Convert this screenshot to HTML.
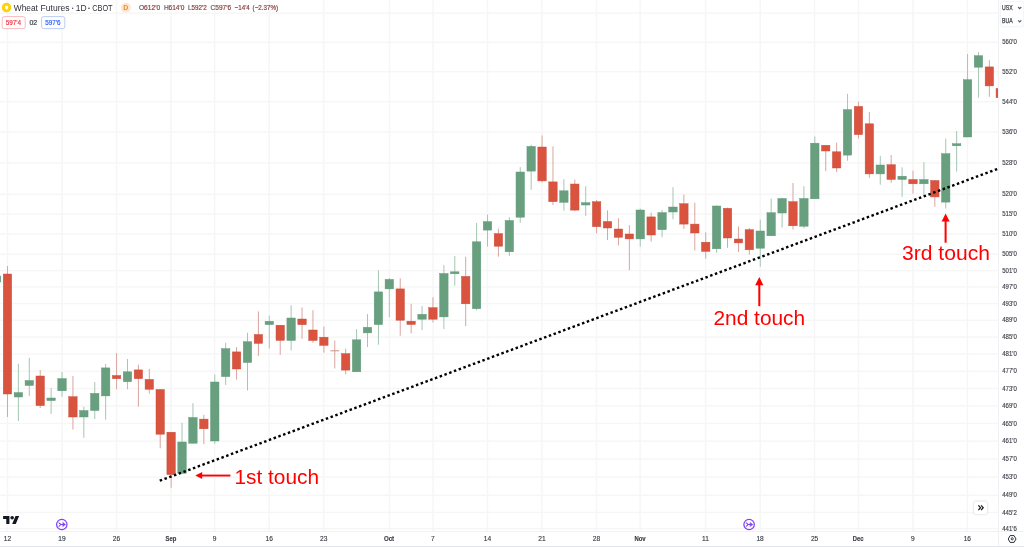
<!DOCTYPE html>
<html><head><meta charset="utf-8">
<style>
html,body{margin:0;padding:0;background:#fff;width:1024px;height:547px;overflow:hidden}
svg{position:absolute;left:0;top:0;display:block;will-change:transform}
text{font-family:"Liberation Sans",sans-serif}
</style></head><body>
<svg width="1024" height="547" viewBox="0 0 1024 547">
<rect width="1024" height="547" fill="#fff"/>
<clipPath id="cp"><rect x="0" y="0" width="998" height="531"/></clipPath>
<g clip-path="url(#cp)">
<rect x="6.8" y="0" width="1.4" height="531" fill="#f6f6f7"/>
<rect x="61.4" y="0" width="1.4" height="531" fill="#f6f6f7"/>
<rect x="115.8" y="0" width="1.4" height="531" fill="#f6f6f7"/>
<rect x="170.3" y="0" width="1.4" height="531" fill="#f6f6f7"/>
<rect x="214" y="0" width="1.4" height="531" fill="#f6f6f7"/>
<rect x="268.5" y="0" width="1.4" height="531" fill="#f6f6f7"/>
<rect x="323.1" y="0" width="1.4" height="531" fill="#f6f6f7"/>
<rect x="388.8" y="0" width="1.4" height="531" fill="#f6f6f7"/>
<rect x="432.4" y="0" width="1.4" height="531" fill="#f6f6f7"/>
<rect x="486.8" y="0" width="1.4" height="531" fill="#f6f6f7"/>
<rect x="541.2" y="0" width="1.4" height="531" fill="#f6f6f7"/>
<rect x="595.7" y="0" width="1.4" height="531" fill="#f6f6f7"/>
<rect x="639.4" y="0" width="1.4" height="531" fill="#f6f6f7"/>
<rect x="704.9" y="0" width="1.4" height="531" fill="#f6f6f7"/>
<rect x="759.5" y="0" width="1.4" height="531" fill="#f6f6f7"/>
<rect x="813.8" y="0" width="1.4" height="531" fill="#f6f6f7"/>
<rect x="857.8" y="0" width="1.4" height="531" fill="#f6f6f7"/>
<rect x="912.3" y="0" width="1.4" height="531" fill="#f6f6f7"/>
<rect x="966.7" y="0" width="1.4" height="531" fill="#f6f6f7"/>
<rect x="0" y="12.46" width="998" height="1.4" fill="#f6f6f7"/>
<rect x="0" y="41.55" width="998" height="1.4" fill="#f6f6f7"/>
<rect x="0" y="71.06" width="998" height="1.4" fill="#f6f6f7"/>
<rect x="0" y="100.99" width="998" height="1.4" fill="#f6f6f7"/>
<rect x="0" y="131.37" width="998" height="1.4" fill="#f6f6f7"/>
<rect x="0" y="162.21" width="998" height="1.4" fill="#f6f6f7"/>
<rect x="0" y="193.52" width="998" height="1.4" fill="#f6f6f7"/>
<rect x="0" y="213.33" width="998" height="1.4" fill="#f6f6f7"/>
<rect x="0" y="233.33" width="998" height="1.4" fill="#f6f6f7"/>
<rect x="0" y="253.54" width="998" height="1.4" fill="#f6f6f7"/>
<rect x="0" y="269.84" width="998" height="1.4" fill="#f6f6f7"/>
<rect x="0" y="286.28" width="998" height="1.4" fill="#f6f6f7"/>
<rect x="0" y="302.85" width="998" height="1.4" fill="#f6f6f7"/>
<rect x="0" y="319.56" width="998" height="1.4" fill="#f6f6f7"/>
<rect x="0" y="336.4" width="998" height="1.4" fill="#f6f6f7"/>
<rect x="0" y="353.38" width="998" height="1.4" fill="#f6f6f7"/>
<rect x="0" y="370.51" width="998" height="1.4" fill="#f6f6f7"/>
<rect x="0" y="387.78" width="998" height="1.4" fill="#f6f6f7"/>
<rect x="0" y="405.19" width="998" height="1.4" fill="#f6f6f7"/>
<rect x="0" y="422.76" width="998" height="1.4" fill="#f6f6f7"/>
<rect x="0" y="440.47" width="998" height="1.4" fill="#f6f6f7"/>
<rect x="0" y="458.34" width="998" height="1.4" fill="#f6f6f7"/>
<rect x="0" y="476.37" width="998" height="1.4" fill="#f6f6f7"/>
<rect x="0" y="494.56" width="998" height="1.4" fill="#f6f6f7"/>
<rect x="0" y="511.75" width="998" height="1.4" fill="#f6f6f7"/>
<rect x="0" y="527.94" width="998" height="1.4" fill="#f6f6f7"/>
<rect x="-3.94" y="270" width="1" height="20" fill="#a6c6b3"/>
<rect x="-7.66" y="276" width="8.44" height="6" fill="#68a07f" stroke="#5e9878" stroke-width="0.45"/>
<rect x="6.97" y="266" width="1" height="151" fill="#d9a59e"/>
<rect x="3.25" y="274" width="8.44" height="120" fill="#d9533f" stroke="#c84f3e" stroke-width="0.45"/>
<rect x="17.88" y="363.7" width="1" height="57.3" fill="#a6c6b3"/>
<rect x="14.16" y="392.6" width="8.44" height="4.4" fill="#68a07f" stroke="#5e9878" stroke-width="0.45"/>
<rect x="28.79" y="357.8" width="1" height="38.2" fill="#a6c6b3"/>
<rect x="25.07" y="380.5" width="8.44" height="5" fill="#68a07f" stroke="#5e9878" stroke-width="0.45"/>
<rect x="39.7" y="370" width="1" height="38" fill="#d9a59e"/>
<rect x="35.98" y="376" width="8.44" height="29.6" fill="#d9533f" stroke="#c84f3e" stroke-width="0.45"/>
<rect x="50.61" y="388" width="1" height="26" fill="#a6c6b3"/>
<rect x="46.89" y="398" width="8.44" height="2.6" fill="#68a07f" stroke="#5e9878" stroke-width="0.45"/>
<rect x="61.52" y="372" width="1" height="24.7" fill="#a6c6b3"/>
<rect x="57.8" y="378.6" width="8.44" height="12.2" fill="#68a07f" stroke="#5e9878" stroke-width="0.45"/>
<rect x="72.43" y="376" width="1" height="53.6" fill="#d9a59e"/>
<rect x="68.71" y="396.7" width="8.44" height="20.3" fill="#d9533f" stroke="#c84f3e" stroke-width="0.45"/>
<rect x="83.34" y="406.6" width="1" height="31.2" fill="#a6c6b3"/>
<rect x="79.62" y="410.5" width="8.44" height="6.5" fill="#68a07f" stroke="#5e9878" stroke-width="0.45"/>
<rect x="94.25" y="382" width="1" height="37" fill="#a6c6b3"/>
<rect x="90.53" y="393.4" width="8.44" height="17.1" fill="#68a07f" stroke="#5e9878" stroke-width="0.45"/>
<rect x="105.16" y="364" width="1" height="55.6" fill="#a6c6b3"/>
<rect x="101.44" y="367.9" width="8.44" height="28" fill="#68a07f" stroke="#5e9878" stroke-width="0.45"/>
<rect x="116.07" y="353" width="1" height="36.3" fill="#d9a59e"/>
<rect x="112.35" y="375.5" width="8.44" height="3.2" fill="#d9533f" stroke="#c84f3e" stroke-width="0.45"/>
<rect x="126.98" y="359" width="1" height="30.3" fill="#a6c6b3"/>
<rect x="123.26" y="371.8" width="8.44" height="9.9" fill="#68a07f" stroke="#5e9878" stroke-width="0.45"/>
<rect x="137.89" y="364.6" width="1" height="42.1" fill="#d9a59e"/>
<rect x="134.17" y="369.9" width="8.44" height="8.8" fill="#d9533f" stroke="#c84f3e" stroke-width="0.45"/>
<rect x="148.8" y="368.9" width="1" height="24.7" fill="#d9a59e"/>
<rect x="145.08" y="379.4" width="8.44" height="9.9" fill="#d9533f" stroke="#c84f3e" stroke-width="0.45"/>
<rect x="159.71" y="389.3" width="1" height="59" fill="#d9a59e"/>
<rect x="155.99" y="389.5" width="8.44" height="44.7" fill="#d9533f" stroke="#c84f3e" stroke-width="0.45"/>
<rect x="170.62" y="432" width="1" height="55.8" fill="#d9a59e"/>
<rect x="166.9" y="432.2" width="8.44" height="42.4" fill="#d9533f" stroke="#c84f3e" stroke-width="0.45"/>
<rect x="181.53" y="422.9" width="1" height="50.4" fill="#a6c6b3"/>
<rect x="177.81" y="442" width="8.44" height="31.3" fill="#68a07f" stroke="#5e9878" stroke-width="0.45"/>
<rect x="192.44" y="403.2" width="1" height="40.4" fill="#a6c6b3"/>
<rect x="188.72" y="417.5" width="8.44" height="25.7" fill="#68a07f" stroke="#5e9878" stroke-width="0.45"/>
<rect x="203.35" y="414.8" width="1" height="29.3" fill="#d9a59e"/>
<rect x="199.63" y="419.1" width="8.44" height="9.7" fill="#d9533f" stroke="#c84f3e" stroke-width="0.45"/>
<rect x="214.26" y="374.6" width="1" height="69.2" fill="#a6c6b3"/>
<rect x="210.54" y="382" width="8.44" height="59" fill="#68a07f" stroke="#5e9878" stroke-width="0.45"/>
<rect x="225.17" y="342.7" width="1" height="42.1" fill="#a6c6b3"/>
<rect x="221.45" y="348.6" width="8.44" height="28" fill="#68a07f" stroke="#5e9878" stroke-width="0.45"/>
<rect x="236.08" y="347" width="1" height="32.6" fill="#d9a59e"/>
<rect x="232.36" y="351.9" width="8.44" height="17.1" fill="#d9533f" stroke="#c84f3e" stroke-width="0.45"/>
<rect x="246.99" y="332.8" width="1" height="57.7" fill="#a6c6b3"/>
<rect x="243.27" y="341.7" width="8.44" height="20.8" fill="#68a07f" stroke="#5e9878" stroke-width="0.45"/>
<rect x="257.9" y="311.4" width="1" height="44.5" fill="#d9a59e"/>
<rect x="254.18" y="334.5" width="8.44" height="8.9" fill="#d9533f" stroke="#c84f3e" stroke-width="0.45"/>
<rect x="268.81" y="315.7" width="1" height="32.9" fill="#a6c6b3"/>
<rect x="265.09" y="321.3" width="8.44" height="3.3" fill="#68a07f" stroke="#5e9878" stroke-width="0.45"/>
<rect x="279.72" y="325" width="1" height="29.9" fill="#d9a59e"/>
<rect x="276" y="325.2" width="8.44" height="15.2" fill="#d9533f" stroke="#c84f3e" stroke-width="0.45"/>
<rect x="290.63" y="305.3" width="1" height="45.2" fill="#a6c6b3"/>
<rect x="286.91" y="318" width="8.44" height="22.5" fill="#68a07f" stroke="#5e9878" stroke-width="0.45"/>
<rect x="301.54" y="307.5" width="1" height="31.3" fill="#d9a59e"/>
<rect x="297.82" y="319" width="8.44" height="5.7" fill="#d9533f" stroke="#c84f3e" stroke-width="0.45"/>
<rect x="312.45" y="310.2" width="1" height="32.6" fill="#d9a59e"/>
<rect x="308.73" y="330" width="8.44" height="10.5" fill="#d9533f" stroke="#c84f3e" stroke-width="0.45"/>
<rect x="323.36" y="326.6" width="1" height="26" fill="#d9a59e"/>
<rect x="319.64" y="337.2" width="8.44" height="8.2" fill="#d9533f" stroke="#c84f3e" stroke-width="0.45"/>
<rect x="334.27" y="340.5" width="1" height="28" fill="#d9a59e"/>
<rect x="330.37" y="350.3" width="8.8" height="1" fill="#d28f87"/>
<rect x="345.18" y="348.7" width="1" height="25.7" fill="#d9a59e"/>
<rect x="341.46" y="353.6" width="8.44" height="16.5" fill="#d9533f" stroke="#c84f3e" stroke-width="0.45"/>
<rect x="356.09" y="329" width="1" height="42.8" fill="#a6c6b3"/>
<rect x="352.37" y="339.8" width="8.44" height="32" fill="#68a07f" stroke="#5e9878" stroke-width="0.45"/>
<rect x="367" y="314.1" width="1" height="32.9" fill="#a6c6b3"/>
<rect x="363.28" y="327.3" width="8.44" height="5.6" fill="#68a07f" stroke="#5e9878" stroke-width="0.45"/>
<rect x="377.91" y="270.3" width="1" height="74.4" fill="#a6c6b3"/>
<rect x="374.19" y="291.9" width="8.44" height="32.7" fill="#68a07f" stroke="#5e9878" stroke-width="0.45"/>
<rect x="388.82" y="278" width="1" height="39.2" fill="#a6c6b3"/>
<rect x="385.1" y="279.4" width="8.44" height="9.5" fill="#68a07f" stroke="#5e9878" stroke-width="0.45"/>
<rect x="399.73" y="278.4" width="1" height="57.3" fill="#d9a59e"/>
<rect x="396.01" y="288.9" width="8.44" height="31.3" fill="#d9533f" stroke="#c84f3e" stroke-width="0.45"/>
<rect x="410.64" y="303.8" width="1" height="29.6" fill="#d9a59e"/>
<rect x="406.92" y="321.2" width="8.44" height="3.3" fill="#d9533f" stroke="#c84f3e" stroke-width="0.45"/>
<rect x="421.55" y="306" width="1" height="24.1" fill="#a6c6b3"/>
<rect x="417.83" y="314.3" width="8.44" height="4.9" fill="#68a07f" stroke="#5e9878" stroke-width="0.45"/>
<rect x="432.46" y="297.2" width="1" height="25.3" fill="#d9a59e"/>
<rect x="428.74" y="307.7" width="8.44" height="11.5" fill="#d9533f" stroke="#c84f3e" stroke-width="0.45"/>
<rect x="443.37" y="265.2" width="1" height="63.9" fill="#a6c6b3"/>
<rect x="439.65" y="273.5" width="8.44" height="43.4" fill="#68a07f" stroke="#5e9878" stroke-width="0.45"/>
<rect x="454.28" y="256" width="1" height="29.6" fill="#a6c6b3"/>
<rect x="450.56" y="271.8" width="8.44" height="2" fill="#68a07f" stroke="#5e9878" stroke-width="0.45"/>
<rect x="465.19" y="256.7" width="1" height="69.5" fill="#d9a59e"/>
<rect x="461.47" y="276.4" width="8.44" height="27.4" fill="#d9533f" stroke="#c84f3e" stroke-width="0.45"/>
<rect x="476.1" y="223" width="1" height="87.3" fill="#a6c6b3"/>
<rect x="472.38" y="241.8" width="8.44" height="66.9" fill="#68a07f" stroke="#5e9878" stroke-width="0.45"/>
<rect x="487.01" y="214.6" width="1" height="32" fill="#a6c6b3"/>
<rect x="483.29" y="221.6" width="8.44" height="8.5" fill="#68a07f" stroke="#5e9878" stroke-width="0.45"/>
<rect x="497.92" y="228.7" width="1" height="28" fill="#d9a59e"/>
<rect x="494.2" y="233.6" width="8.44" height="12.6" fill="#d9533f" stroke="#c84f3e" stroke-width="0.45"/>
<rect x="508.83" y="217.2" width="1" height="38.8" fill="#a6c6b3"/>
<rect x="505.11" y="220.5" width="8.44" height="31.3" fill="#68a07f" stroke="#5e9878" stroke-width="0.45"/>
<rect x="519.74" y="167.1" width="1" height="55.7" fill="#a6c6b3"/>
<rect x="516.02" y="172" width="8.44" height="45.2" fill="#68a07f" stroke="#5e9878" stroke-width="0.45"/>
<rect x="530.65" y="144.7" width="1" height="45.1" fill="#a6c6b3"/>
<rect x="526.93" y="146.4" width="8.44" height="24.7" fill="#68a07f" stroke="#5e9878" stroke-width="0.45"/>
<rect x="541.56" y="135.5" width="1" height="47.1" fill="#d9a59e"/>
<rect x="537.84" y="147" width="8.44" height="33.9" fill="#d9533f" stroke="#c84f3e" stroke-width="0.45"/>
<rect x="552.47" y="146.4" width="1" height="58.6" fill="#d9a59e"/>
<rect x="548.75" y="181.9" width="8.44" height="19.8" fill="#d9533f" stroke="#c84f3e" stroke-width="0.45"/>
<rect x="563.38" y="179.3" width="1" height="31.3" fill="#a6c6b3"/>
<rect x="559.66" y="190.8" width="8.44" height="11.5" fill="#68a07f" stroke="#5e9878" stroke-width="0.45"/>
<rect x="574.29" y="179.5" width="1" height="31.7" fill="#d9a59e"/>
<rect x="570.57" y="184" width="8.44" height="26.1" fill="#d9533f" stroke="#c84f3e" stroke-width="0.45"/>
<rect x="585.2" y="186.2" width="1" height="29.7" fill="#a6c6b3"/>
<rect x="581.48" y="202.7" width="8.44" height="2.3" fill="#68a07f" stroke="#5e9878" stroke-width="0.45"/>
<rect x="596.11" y="200" width="1" height="33.3" fill="#d9a59e"/>
<rect x="592.39" y="201.7" width="8.44" height="25" fill="#d9533f" stroke="#c84f3e" stroke-width="0.45"/>
<rect x="607.02" y="210.3" width="1" height="29.7" fill="#d9a59e"/>
<rect x="603.3" y="221.5" width="8.44" height="6.5" fill="#d9533f" stroke="#c84f3e" stroke-width="0.45"/>
<rect x="617.93" y="218.2" width="1" height="27.3" fill="#d9a59e"/>
<rect x="614.21" y="229" width="8.44" height="8.3" fill="#d9533f" stroke="#c84f3e" stroke-width="0.45"/>
<rect x="628.84" y="225.1" width="1" height="45.1" fill="#d9a59e"/>
<rect x="625.12" y="234" width="8.44" height="4.9" fill="#d9533f" stroke="#c84f3e" stroke-width="0.45"/>
<rect x="639.75" y="208.6" width="1" height="37.9" fill="#a6c6b3"/>
<rect x="636.03" y="210" width="8.44" height="28.9" fill="#68a07f" stroke="#5e9878" stroke-width="0.45"/>
<rect x="650.66" y="212.6" width="1" height="29" fill="#d9a59e"/>
<rect x="646.94" y="216.9" width="8.44" height="18.1" fill="#d9533f" stroke="#c84f3e" stroke-width="0.45"/>
<rect x="661.57" y="210" width="1" height="27.3" fill="#a6c6b3"/>
<rect x="657.85" y="212.6" width="8.44" height="17.1" fill="#68a07f" stroke="#5e9878" stroke-width="0.45"/>
<rect x="672.48" y="187.2" width="1" height="32" fill="#a6c6b3"/>
<rect x="668.76" y="207" width="8.44" height="5" fill="#68a07f" stroke="#5e9878" stroke-width="0.45"/>
<rect x="683.39" y="194.5" width="1" height="34.5" fill="#d9a59e"/>
<rect x="679.67" y="203.7" width="8.44" height="20.4" fill="#d9533f" stroke="#c84f3e" stroke-width="0.45"/>
<rect x="694.3" y="202.7" width="1" height="47.8" fill="#d9a59e"/>
<rect x="690.58" y="224.1" width="8.44" height="8.9" fill="#d9533f" stroke="#c84f3e" stroke-width="0.45"/>
<rect x="705.21" y="232.3" width="1" height="26.4" fill="#d9a59e"/>
<rect x="701.49" y="242.2" width="8.44" height="9.2" fill="#d9533f" stroke="#c84f3e" stroke-width="0.45"/>
<rect x="716.12" y="205.3" width="1" height="47.5" fill="#a6c6b3"/>
<rect x="712.4" y="206" width="8.44" height="42.8" fill="#68a07f" stroke="#5e9878" stroke-width="0.45"/>
<rect x="727.03" y="207.6" width="1" height="40.2" fill="#d9a59e"/>
<rect x="723.31" y="208.3" width="8.44" height="29.7" fill="#d9533f" stroke="#c84f3e" stroke-width="0.45"/>
<rect x="737.94" y="226.4" width="1" height="25.7" fill="#d9a59e"/>
<rect x="734.22" y="239" width="8.44" height="3.9" fill="#d9533f" stroke="#c84f3e" stroke-width="0.45"/>
<rect x="748.85" y="228" width="1" height="26.7" fill="#d9a59e"/>
<rect x="745.13" y="229.7" width="8.44" height="20.1" fill="#d9533f" stroke="#c84f3e" stroke-width="0.45"/>
<rect x="759.76" y="219.6" width="1" height="47.2" fill="#a6c6b3"/>
<rect x="756.04" y="231" width="8.44" height="17.2" fill="#68a07f" stroke="#5e9878" stroke-width="0.45"/>
<rect x="770.67" y="198.6" width="1" height="37.2" fill="#a6c6b3"/>
<rect x="766.95" y="212.7" width="8.44" height="23.1" fill="#68a07f" stroke="#5e9878" stroke-width="0.45"/>
<rect x="781.58" y="197.8" width="1" height="29.7" fill="#a6c6b3"/>
<rect x="777.86" y="198.5" width="8.44" height="14.5" fill="#68a07f" stroke="#5e9878" stroke-width="0.45"/>
<rect x="792.49" y="183" width="1" height="46.5" fill="#d9a59e"/>
<rect x="788.77" y="201.7" width="8.44" height="24.1" fill="#d9533f" stroke="#c84f3e" stroke-width="0.45"/>
<rect x="803.4" y="186.1" width="1" height="42.3" fill="#a6c6b3"/>
<rect x="799.68" y="198.5" width="8.44" height="27.7" fill="#68a07f" stroke="#5e9878" stroke-width="0.45"/>
<rect x="814.31" y="136.5" width="1" height="62.3" fill="#a6c6b3"/>
<rect x="810.59" y="143.2" width="8.44" height="55.6" fill="#68a07f" stroke="#5e9878" stroke-width="0.45"/>
<rect x="825.22" y="145.1" width="1" height="26.1" fill="#d9a59e"/>
<rect x="821.5" y="145.3" width="8.44" height="5.7" fill="#d9533f" stroke="#c84f3e" stroke-width="0.45"/>
<rect x="836.13" y="142.6" width="1" height="29.6" fill="#d9a59e"/>
<rect x="832.41" y="151.8" width="8.44" height="16.2" fill="#d9533f" stroke="#c84f3e" stroke-width="0.45"/>
<rect x="847.04" y="93.8" width="1" height="66.9" fill="#a6c6b3"/>
<rect x="843.32" y="109.6" width="8.44" height="45.5" fill="#68a07f" stroke="#5e9878" stroke-width="0.45"/>
<rect x="857.95" y="101.7" width="1" height="36.9" fill="#d9a59e"/>
<rect x="854.23" y="106.4" width="8.44" height="28.2" fill="#d9533f" stroke="#c84f3e" stroke-width="0.45"/>
<rect x="868.86" y="112" width="1" height="65.8" fill="#d9a59e"/>
<rect x="865.14" y="123.8" width="8.44" height="50.1" fill="#d9533f" stroke="#c84f3e" stroke-width="0.45"/>
<rect x="879.77" y="155.8" width="1" height="28.9" fill="#a6c6b3"/>
<rect x="876.05" y="165" width="8.44" height="8.9" fill="#68a07f" stroke="#5e9878" stroke-width="0.45"/>
<rect x="890.68" y="155" width="1" height="27.8" fill="#d9a59e"/>
<rect x="886.96" y="164.7" width="8.44" height="14.8" fill="#d9533f" stroke="#c84f3e" stroke-width="0.45"/>
<rect x="901.59" y="167.3" width="1" height="29.6" fill="#a6c6b3"/>
<rect x="897.87" y="176.2" width="8.44" height="3.3" fill="#68a07f" stroke="#5e9878" stroke-width="0.45"/>
<rect x="912.5" y="170.6" width="1" height="23" fill="#d9a59e"/>
<rect x="908.78" y="179.5" width="8.44" height="4.3" fill="#d9533f" stroke="#c84f3e" stroke-width="0.45"/>
<rect x="923.41" y="162.3" width="1" height="33.6" fill="#a6c6b3"/>
<rect x="919.69" y="179.5" width="8.44" height="4.3" fill="#68a07f" stroke="#5e9878" stroke-width="0.45"/>
<rect x="934.32" y="180" width="1" height="26.8" fill="#d9a59e"/>
<rect x="930.6" y="180.5" width="8.44" height="16.4" fill="#d9533f" stroke="#c84f3e" stroke-width="0.45"/>
<rect x="945.23" y="138.7" width="1" height="69.8" fill="#a6c6b3"/>
<rect x="941.51" y="153.7" width="8.44" height="48.4" fill="#68a07f" stroke="#5e9878" stroke-width="0.45"/>
<rect x="956.14" y="131" width="1" height="40.6" fill="#a6c6b3"/>
<rect x="952.42" y="143.7" width="8.44" height="2.1" fill="#68a07f" stroke="#5e9878" stroke-width="0.45"/>
<rect x="967.05" y="54" width="1" height="83" fill="#a6c6b3"/>
<rect x="963.33" y="79.7" width="8.44" height="57.3" fill="#68a07f" stroke="#5e9878" stroke-width="0.45"/>
<rect x="977.96" y="52.2" width="1" height="45.5" fill="#a6c6b3"/>
<rect x="974.24" y="55.7" width="8.44" height="11.5" fill="#68a07f" stroke="#5e9878" stroke-width="0.45"/>
<rect x="988.87" y="60.2" width="1" height="36.6" fill="#d9a59e"/>
<rect x="985.15" y="66.9" width="8.44" height="19" fill="#d9533f" stroke="#c84f3e" stroke-width="0.45"/>
<rect x="999.78" y="88" width="1" height="9.7" fill="#d9a59e"/>
<rect x="996.06" y="88.5" width="8.44" height="9.2" fill="#d9533f" stroke="#c84f3e" stroke-width="0.45"/>
<line x1="159.73" y1="480.74" x2="997.37" y2="168.96" stroke="#000" stroke-width="2.4" stroke-dasharray="2.5 2.563"/>
</g>
<!-- axes -->
<rect x="998" y="0" width="1" height="546" fill="#f1f1f3"/>
<rect x="0" y="531" width="1024" height="1" fill="#f1f1f3"/>
<rect x="0" y="546" width="1024" height="1" fill="#e3e4ee"/>
<g fill="#3a3d46" font-size="7" stroke="#3a3d46" stroke-width="0.15">
<text x="1002.2" y="44.3" textLength="14.6" lengthAdjust="spacingAndGlyphs">560'0</text>
<text x="1002.2" y="73.81" textLength="14.6" lengthAdjust="spacingAndGlyphs">552'0</text>
<text x="1002.2" y="103.74" textLength="14.6" lengthAdjust="spacingAndGlyphs">544'0</text>
<text x="1002.2" y="134.12" textLength="14.6" lengthAdjust="spacingAndGlyphs">536'0</text>
<text x="1002.2" y="164.96" textLength="14.6" lengthAdjust="spacingAndGlyphs">528'0</text>
<text x="1002.2" y="196.27" textLength="14.6" lengthAdjust="spacingAndGlyphs">520'0</text>
<text x="1002.2" y="216.08" textLength="14.6" lengthAdjust="spacingAndGlyphs">515'0</text>
<text x="1002.2" y="236.08" textLength="14.6" lengthAdjust="spacingAndGlyphs">510'0</text>
<text x="1002.2" y="256.29" textLength="14.6" lengthAdjust="spacingAndGlyphs">505'0</text>
<text x="1002.2" y="272.59" textLength="14.6" lengthAdjust="spacingAndGlyphs">501'0</text>
<text x="1002.2" y="289.03" textLength="14.6" lengthAdjust="spacingAndGlyphs">497'0</text>
<text x="1002.2" y="305.6" textLength="14.6" lengthAdjust="spacingAndGlyphs">493'0</text>
<text x="1002.2" y="322.31" textLength="14.6" lengthAdjust="spacingAndGlyphs">489'0</text>
<text x="1002.2" y="339.15" textLength="14.6" lengthAdjust="spacingAndGlyphs">485'0</text>
<text x="1002.2" y="356.13" textLength="14.6" lengthAdjust="spacingAndGlyphs">481'0</text>
<text x="1002.2" y="373.26" textLength="14.6" lengthAdjust="spacingAndGlyphs">477'0</text>
<text x="1002.2" y="390.53" textLength="14.6" lengthAdjust="spacingAndGlyphs">473'0</text>
<text x="1002.2" y="407.94" textLength="14.6" lengthAdjust="spacingAndGlyphs">469'0</text>
<text x="1002.2" y="425.51" textLength="14.6" lengthAdjust="spacingAndGlyphs">465'0</text>
<text x="1002.2" y="443.22" textLength="14.6" lengthAdjust="spacingAndGlyphs">461'0</text>
<text x="1002.2" y="461.09" textLength="14.6" lengthAdjust="spacingAndGlyphs">457'0</text>
<text x="1002.2" y="479.12" textLength="14.6" lengthAdjust="spacingAndGlyphs">453'0</text>
<text x="1002.2" y="497.31" textLength="14.6" lengthAdjust="spacingAndGlyphs">449'0</text>
<text x="1002.2" y="514.5" textLength="14.6" lengthAdjust="spacingAndGlyphs">445'2</text>
<text x="1002.2" y="530.69" textLength="14.6" lengthAdjust="spacingAndGlyphs">441'6</text>
</g>
<g fill="#3a3d46" font-size="6.6" stroke="#3a3d46" stroke-width="0.15">
<text x="7.47" y="540.9" text-anchor="middle">12</text>
<text x="62" y="540.9" text-anchor="middle">19</text>
<text x="116.5" y="540.9" text-anchor="middle">26</text>
<text x="165.5" y="540.9" style="font-weight:bold" textLength="10.8" lengthAdjust="spacingAndGlyphs">Sep</text>
<text x="214.7" y="540.9" text-anchor="middle">9</text>
<text x="269.2" y="540.9" text-anchor="middle">16</text>
<text x="323.7" y="540.9" text-anchor="middle">23</text>
<text x="383.9" y="540.9" style="font-weight:bold" textLength="10.2" lengthAdjust="spacingAndGlyphs">Oct</text>
<text x="432.9" y="540.9" text-anchor="middle">7</text>
<text x="487.5" y="540.9" text-anchor="middle">14</text>
<text x="541.9" y="540.9" text-anchor="middle">21</text>
<text x="596.4" y="540.9" text-anchor="middle">28</text>
<text x="634.4" y="540.9" style="font-weight:bold" textLength="11.3" lengthAdjust="spacingAndGlyphs">Nov</text>
<text x="705.5" y="540.9" text-anchor="middle">11</text>
<text x="760.1" y="540.9" text-anchor="middle">18</text>
<text x="814.6" y="540.9" text-anchor="middle">25</text>
<text x="852.7" y="540.9" style="font-weight:bold" textLength="10.7" lengthAdjust="spacingAndGlyphs">Dec</text>
<text x="912.8" y="540.9" text-anchor="middle">9</text>
<text x="967.3" y="540.9" text-anchor="middle">16</text>
</g>
<!-- header -->
<circle cx="6.55" cy="7.55" r="4.75" fill="#fdd10d"/>
<path d="M5.1 5.5 L6.6 6.3 L8.1 5.5 L8.1 8.3 L6.6 10.1 L5.1 8.3 Z" fill="#fff"/>
<g font-size="8.5" fill="#2e3039">
<text x="13.8" y="10.8" textLength="24.1" lengthAdjust="spacingAndGlyphs">Wheat</text>
<text x="40.6" y="10.8" textLength="28.9" lengthAdjust="spacingAndGlyphs">Futures</text>
<rect x="72" y="7.7" width="1.2" height="1.1"/>
<text x="75.8" y="10.8" textLength="10.8" lengthAdjust="spacingAndGlyphs">1D</text>
<rect x="88.2" y="7.7" width="1.5" height="1.1"/>
<text x="92.2" y="10.8" textLength="20.4" lengthAdjust="spacingAndGlyphs">CBOT</text>
</g>
<circle cx="125.9" cy="7.7" r="4.9" fill="#fde7d2"/>
<text x="125.9" y="10.3" font-size="7" font-weight="bold" fill="#f78a1f" text-anchor="middle">D</text>
<g font-size="7.2" stroke-width="0.2">
<text x="138.9" y="10.3" textLength="21.3" lengthAdjust="spacingAndGlyphs"><tspan fill="#5d606b" stroke="#5d606b">O</tspan><tspan fill="#8a3f3f" stroke="#8a3f3f">612'0</tspan></text>
<text x="163.9" y="10.3" textLength="20.5" lengthAdjust="spacingAndGlyphs"><tspan fill="#5d606b" stroke="#5d606b">H</tspan><tspan fill="#8a3f3f" stroke="#8a3f3f">614'0</tspan></text>
<text x="188.1" y="10.3" textLength="18.6" lengthAdjust="spacingAndGlyphs"><tspan fill="#5d606b" stroke="#5d606b">L</tspan><tspan fill="#8a3f3f" stroke="#8a3f3f">592'2</tspan></text>
<text x="210.6" y="10.3" textLength="20.5" lengthAdjust="spacingAndGlyphs"><tspan fill="#5d606b" stroke="#5d606b">C</tspan><tspan fill="#8a3f3f" stroke="#8a3f3f">597'6</tspan></text>
<text x="234.6" y="10.3" textLength="15.2" lengthAdjust="spacingAndGlyphs" fill="#8a3f3f" stroke="#8a3f3f">−14'4</text>
<text x="252.6" y="10.3" textLength="25.4" lengthAdjust="spacingAndGlyphs" fill="#8a3f3f" stroke="#8a3f3f">(−2.37%)</text>
</g>
<rect x="2.2" y="16.6" width="23" height="12" rx="2" fill="#fff" stroke="#f7a8ad" stroke-width="0.8"/>
<text x="5.7" y="25" font-size="7" fill="#f23645" stroke="#f23645" stroke-width="0.2" textLength="15.4" lengthAdjust="spacingAndGlyphs">597'4</text>
<text x="29.4" y="25" font-size="7" fill="#3a3d46" stroke="#3a3d46" stroke-width="0.2">02</text>
<rect x="41.6" y="16.6" width="23.2" height="12" rx="2" fill="#fff" stroke="#a9bff7" stroke-width="0.8"/>
<text x="45.3" y="25" font-size="7" fill="#2962ff" stroke="#2962ff" stroke-width="0.2" textLength="15.3" lengthAdjust="spacingAndGlyphs">597'6</text>
<!-- currency box -->
<rect x="1000.3" y="1.5" width="23.4" height="25.3" rx="2.5" fill="#fff" stroke="#eef0f4" stroke-width="0.8"/>
<text x="1002.1" y="10.2" font-size="7" fill="#3a3d46" stroke="#3a3d46" stroke-width="0.25" textLength="10.7" lengthAdjust="spacingAndGlyphs">USX</text>
<text x="1002.1" y="23.4" font-size="7" fill="#3a3d46" stroke="#3a3d46" stroke-width="0.25" textLength="10.7" lengthAdjust="spacingAndGlyphs">BUA</text>
<path d="M1018.1 7 L1019.7 8.6 L1021.3 7" fill="none" stroke="#5d606b" stroke-width="1.2"/>
<path d="M1018.1 20.3 L1019.7 21.9 L1021.3 20.3" fill="none" stroke="#5d606b" stroke-width="1.2"/>
<!-- annotations -->
<g fill="#ff0000" stroke="none">
<rect x="200" y="474.6" width="30.4" height="1.9"/>
<path d="M195.3 475.5 L202.2 472 L202.2 479 Z"/>
<rect x="758.3" y="283" width="2" height="23.2"/>
<path d="M759.3 277 L755.2 285.2 L763.4 285.2 Z"/>
<rect x="944.6" y="219" width="2" height="23.7"/>
<path d="M945.6 213.5 L941.6 221.4 L949.6 221.4 Z"/>
</g>
<g fill="#ff0000" font-size="19.5">
<text x="234.5" y="483.6" textLength="84.5" lengthAdjust="spacingAndGlyphs">1st touch</text>
<text x="713.5" y="324.5" textLength="91.6" lengthAdjust="spacingAndGlyphs">2nd touch</text>
<text x="902" y="259.7" textLength="87.9" lengthAdjust="spacingAndGlyphs">3rd touch</text>
</g>
<!-- TV logo -->
<g fill="#131722" transform="translate(3.1 514.1) scale(0.452)">
<path d="M14 22H7V11H0V4h14v18zM28 22h-8l7.5-18h8L28 22z"/>
<circle cx="20" cy="8" r="4"/>
</g>
<!-- purple event icons -->
<g fill="none" stroke="#7f40f5" stroke-width="1.25">
<circle cx="61.8" cy="524.5" r="5.2"/>
<circle cx="749.1" cy="524.5" r="5.2"/>
</g>
<g fill="#7f40f5" stroke="#7f40f5" stroke-width="1.05" stroke-linecap="round" stroke-linejoin="round">
<path d="M59 522.8 L60.8 524.5 L59 526.3 M60.8 524.5 H63.6" fill="none"/>
<path d="M63 522.6 L65.6 524.5 L63 526.4 Z" stroke-width="0.5"/>
<path d="M746.3 522.8 L748.1 524.5 L746.3 526.3 M748.1 524.5 H750.9" fill="none"/>
<path d="M750.3 522.6 L752.9 524.5 L750.3 526.4 Z" stroke-width="0.5"/>
</g>
<!-- scroll button -->
<rect x="974" y="501.5" width="13.2" height="12.5" rx="2" fill="#fff" style="filter:drop-shadow(0 0.6px 1.2px rgba(0,0,0,0.22))"/>
<path d="M978.4 505.3 L980.5 507.7 L978.4 510.1 M981.1 505.3 L983.2 507.7 L981.1 510.1" fill="none" stroke="#131722" stroke-width="1.25"/>
<!-- settings icon -->
<path d="M1008.2 539 L1010.15 535.6 L1014.05 535.6 L1016 539 L1014.05 542.4 L1010.15 542.4 Z" fill="none" stroke="#131722" stroke-width="0.9"/>
<circle cx="1012.2" cy="538.8" r="1.1" fill="none" stroke="#131722" stroke-width="0.8"/>
</svg>
</body></html>
